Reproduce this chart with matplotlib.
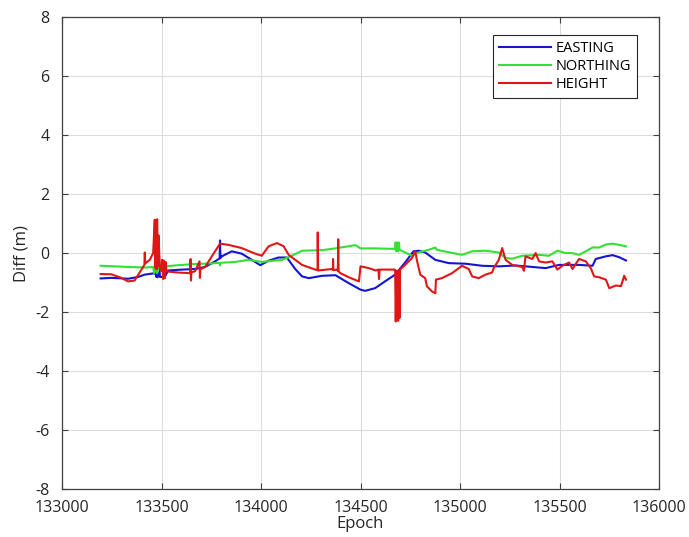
import numpy as np
import matplotlib
matplotlib.use("Agg")
import matplotlib.pyplot as plt

plt.rcParams['font.family'] = ['Open Sans', 'DejaVu Sans']
plt.rcParams['axes.unicode_minus'] = False

# ----------------------------
# Data
# ----------------------------
east_epoch = [133194, 133248, 133332, 133382, 133416, 133458, 133466, 133470, 133473,
              133476, 133480, 133483, 133492, 133517, 133534, 133601, 133668, 133719,
              133769, 133792, 133794, 133796, 133803, 133853, 133903, 133954, 133996,
              134038, 134088, 134130, 134172, 134206, 134240, 134307, 134374, 134441,
              134500, 134523, 134573, 134623, 134674, 134724, 134766, 134792, 134825,
              134876, 134943, 135027, 135111, 135195, 135279, 135363, 135430, 135498,
              135598, 135666, 135682, 135733, 135767, 135800, 135834]
east_val = [-0.86, -0.84, -0.87, -0.81, -0.73, -0.69, -0.70, 0.36, -0.80,
            0.20, -0.82, 0.30, -0.81, -0.80, -0.59, -0.56, -0.54, -0.47,
            -0.28, -0.18, 0.43, -0.17, -0.11, 0.06, -0.02, -0.23, -0.41,
            -0.26, -0.15, -0.15, -0.54, -0.79, -0.85, -0.77, -0.75, -1.02,
            -1.24, -1.28, -1.19, -0.96, -0.73, -0.32, 0.06, 0.08, 0.02,
            -0.23, -0.34, -0.36, -0.43, -0.45, -0.42, -0.47, -0.51, -0.40,
            -0.40, -0.43, -0.20, -0.11, -0.07, -0.14, -0.25]

north_epoch = [133194, 133265, 133332, 133416, 133458, 133463, 133468, 133478, 133490,
               133517, 133584, 133668, 133752, 133792, 133794, 133796, 133870, 133937,
               134004, 134105, 134139, 134206, 134307, 134374, 134475, 134500, 134576,
               134674, 134676, 134680, 134684, 134688, 134692, 134697, 134707, 134758,
               134792, 134842, 134876, 134884, 134943, 135010, 135061, 135128, 135195,
               135229, 135262, 135313, 135397, 135447, 135489, 135531, 135565, 135598,
               135632, 135666, 135699, 135733, 135767, 135800, 135834]
north_val = [-0.43, -0.45, -0.47, -0.49, -0.47, -0.68, -0.47, -0.68, -0.46,
             -0.45, -0.41, -0.37, -0.35, -0.33, -0.42, -0.33, -0.30, -0.23,
             -0.30, -0.23, -0.14, 0.08, 0.10, 0.16, 0.27, 0.16, 0.16,
             0.14, 0.36, 0.06, 0.36, 0.06, 0.36, 0.10, 0.08, -0.09,
             0.02, 0.11, 0.19, 0.11, 0.03, -0.06, 0.06, 0.08, 0.02,
             -0.17, -0.19, -0.09, -0.06, -0.09, 0.08, 0.00, 0.00, -0.06,
             0.06, 0.19, 0.19, 0.29, 0.32, 0.28, 0.23]

height_epoch = [133194, 133248, 133298, 133332, 133365, 133399, 133414, 133416, 133418,
                133441, 133458, 133466, 133469, 133472, 133475, 133478, 133481, 133485,
                133492, 133500, 133503, 133508, 133512, 133517, 133521, 133525, 133584,
                133643, 133646, 133648, 133650, 133668, 133691, 133693, 133695, 133719,
                133769, 133794, 133836, 133903, 133971, 134004, 134038, 134080, 134114,
                134139, 134206, 134273, 134284, 134285, 134287, 134357, 134361, 134362,
                134364, 134383, 134386, 134388, 134390, 134399, 134441, 134492, 134500,
                134542, 134576, 134590, 134593, 134596, 134623, 134674, 134677, 134680,
                134683, 134686, 134689, 134692, 134696, 134699, 134724, 134758, 134775,
                134783, 134800, 134825, 134834, 134859, 134876, 134879, 134909, 134960,
                135010, 135044, 135061, 135094, 135128, 135161, 135170, 135195, 135212,
                135229, 135262, 135313, 135321, 135329, 135363, 135380, 135397, 135430,
                135464, 135489, 135514, 135548, 135565, 135598, 135632, 135657, 135674,
                135699, 135733, 135750, 135783, 135809, 135825, 135834]
height_val = [-0.71, -0.72, -0.84, -0.96, -0.93, -0.56, -0.40, 0.02, -0.35,
              -0.23, 0.00, 1.13, -0.50, 1.10, -0.55, 1.15, -0.45, 0.60,
              -0.56, -0.60, -0.23, -0.88, -0.25, -0.85, -0.30, -0.62, -0.66,
              -0.68, -0.20, -0.93, -0.65, -0.62, -0.28, -0.84, -0.55, -0.47,
              0.06, 0.32, 0.28, 0.17, -0.02, -0.09, 0.23, 0.34, 0.23,
              -0.06, -0.40, -0.56, -0.58, 0.70, -0.59, -0.54, -0.56, -0.20,
              -0.58, -0.56, -0.60, 0.47, -0.62, -0.68, -0.82, -0.96, -0.45,
              -0.51, -0.59, -0.56, -0.88, -0.56, -0.56, -0.56, -2.32, -0.60,
              -2.25, -0.60, -2.30, -0.60, -2.20, -0.56, -0.40, -0.17, 0.06,
              -0.23, -0.73, -0.85, -1.13, -1.30, -1.36, -0.90, -0.85, -0.68,
              -0.43, -0.54, -0.79, -0.85, -0.73, -0.66, -0.50, -0.23, 0.17,
              -0.23, -0.40, -0.47, -0.60, -0.11, -0.20, 0.00, -0.28, -0.32,
              -0.28, -0.56, -0.43, -0.32, -0.54, -0.20, -0.28, -0.51, -0.79,
              -0.82, -0.90, -1.19, -1.10, -1.12, -0.77, -0.90]

x_ticks = [133000, 133500, 134000, 134500, 135000, 135500, 136000]
y_ticks = [-8, -6, -4, -2, 0, 2, 4, 6, 8]

# ----------------------------
# Plot
# ----------------------------
fig = plt.figure(figsize=(6.89, 5.37), dpi=100)
ax = fig.add_axes([0.090, 0.0894, 0.8665, 0.8786])

ax.plot(east_epoch, east_val, color="#1414d2", lw=1.5, label="EASTING")
ax.plot(north_epoch, north_val, color="#33e033", lw=1.5, label="NORTHING")
ax.plot(height_epoch, height_val, color="#e01616", lw=1.5, label="HEIGHT")

ax.set_xlim(133000, 136000)
ax.set_ylim(-8, 8)
ax.set_xticks(x_ticks)
ax.set_yticks(y_ticks)
ax.set_xticklabels([str(t) for t in x_ticks])
ax.grid(True, color="#dcdcdc", lw=0.8)
ax.set_axisbelow(True)
ax.tick_params(direction="in", top=True, right=True, length=4, width=0.8,
               colors="#404040", labelcolor="#262626", labelsize=11.5)
ax.tick_params(axis="x", pad=8)
ax.tick_params(axis="y", pad=9)
for s in ax.spines.values():
    s.set_color("#404040")
    s.set_linewidth(0.9)

ax.set_xlabel("Epoch", fontsize=12, color="#262626", labelpad=0)
ax.set_ylabel("Diff (m)", fontsize=12, color="#262626", labelpad=4)

leg = ax.legend(loc="upper right", bbox_to_anchor=(0.963, 0.962), borderaxespad=0,
                fontsize=10.5, handlelength=3.6, handletextpad=0.3,
                fancybox=False, framealpha=1, edgecolor="#262626",
                borderpad=0.4, labelspacing=0.2)
leg.get_frame().set_linewidth(0.8)

plt.savefig("out.png", dpi=100)
